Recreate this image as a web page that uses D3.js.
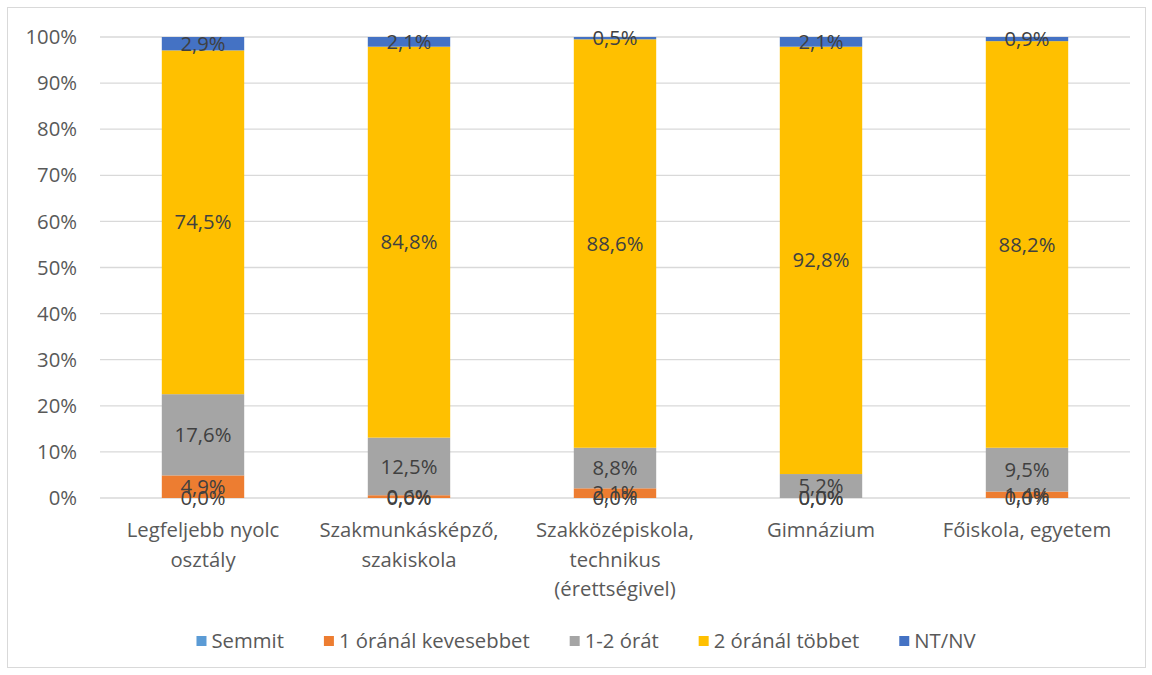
<!DOCTYPE html>
<html><head><meta charset="utf-8">
<script src="https://cdn.jsdelivr.net/npm/d3@7"></script>
<style>body{margin:0;background:#fff}text{font-family:"Open Sans","Noto Sans",sans-serif}</style>
</head><body><svg id="c" width="1152" height="675"></svg>
<script>
const categories = [["Legfeljebb nyolc","osztály"],["Szakmunkásképző,","szakiskola"],["Szakközépiskola,","technikus","(érettségivel)"],["Gimnázium"],["Főiskola, egyetem"]];
const seriesNames = ["Semmit","1 óránál kevesebbet","1-2 órát","2 óránál többet","NT/NV"];
const colors = ["#5B9BD5","#ED7D31","#A5A5A5","#FFC000","#4472C4"];
const semmit = [0.0,0.0,0.0,0.0,0.0];
const kevesebb = [4.9,0.6,2.1,0.0,1.4];
const egyKetOra = [17.6,12.5,8.8,5.2,9.5];
const tobb = [74.5,84.8,88.6,92.8,88.2];
const ntnv = [2.9,2.1,0.5,2.1,0.9];
const yTicks = [0,10,20,30,40,50,60,70,80,90,100];

const FS = 20.3;
const values = [semmit,kevesebb,egyKetOra,tobb,ntnv];
const svg = d3.select("#c");
svg.append("rect").attr("x",7.5).attr("y",7.5).attr("width",1138).attr("height",660).attr("fill","#fff").attr("stroke","#D9D9D9");
const x = d3.scaleBand().domain(d3.range(5)).range([100,1130]).paddingInner(0.6).paddingOuter(0.3);
const y = d3.scaleLinear().domain([0,100]).range([498,37]);
svg.append("g").selectAll("line").data(yTicks).join("line")
 .attr("x1",100).attr("x2",1130).attr("y1",d=>y(d)).attr("y2",d=>y(d)).attr("stroke","#D9D9D9").attr("stroke-width",1.3);
svg.append("g").selectAll("text").data(yTicks).join("text")
 .attr("x",77).attr("y",d=>y(d)).attr("dy","0.35em").attr("text-anchor","end").attr("font-size",FS).attr("fill","#595959").text(d=>d+"%");
const rows = d3.range(5).map(i=>{const o={i}; seriesNames.forEach((s,k)=>o[s]=values[k][i]); return o;});
const stack = d3.stack().keys(seriesNames).offset(d3.stackOffsetExpand);
const st = stack(rows);
const g = svg.append("g");
st.forEach((layer,k)=>{
  g.selectAll(null).data(layer).join("rect")
   .attr("x",d=>x(d.data.i)).attr("width",x.bandwidth())
   .attr("y",d=>y(d[1]*100)).attr("height",d=>y(d[0]*100)-y(d[1]*100))
   .attr("fill",colors[k]);
});
const fmt = v=>v.toFixed(1).replace(".",",")+"%";
st.forEach((layer,k)=>{
  g.selectAll(null).data(layer).join("text")
   .attr("x",d=>x(d.data.i)+x.bandwidth()/2).attr("y",d=>y((d[0]+d[1])/2*100)).attr("dy","0.35em")
   .attr("text-anchor","middle").attr("font-size",FS).attr("fill","#404040")
   .text(d=>fmt(values[k][d.data.i]));
});
const xl = svg.append("g");
categories.forEach((lines,i)=>{
  lines.forEach((t,j)=>{
    xl.append("text").attr("x",x(i)+x.bandwidth()/2).attr("y",530+j*29.5).attr("dy","0.35em")
      .attr("text-anchor","middle").attr("font-size",FS).attr("fill","#595959").text(t);
  });
});
const lg = svg.append("g");
let widths = seriesNames.map(s=>{const t=lg.append("text").attr("font-size",FS).text(s); const w=t.node().getComputedTextLength(); t.remove(); return w;});
const sq=10, gap1=5, gap2=40;
const total = d3.sum(widths)+5*(sq+gap1)+4*gap2;
let cx = 586-total/2;
seriesNames.forEach((s,k)=>{
  lg.append("rect").attr("x",cx).attr("y",636).attr("width",sq).attr("height",sq).attr("fill",colors[k]);
  lg.append("text").attr("x",cx+sq+gap1).attr("y",641).attr("dy","0.35em").attr("font-size",FS).attr("fill","#595959").text(s);
  cx += sq+gap1+widths[k]+gap2;
});
</script></body></html>
